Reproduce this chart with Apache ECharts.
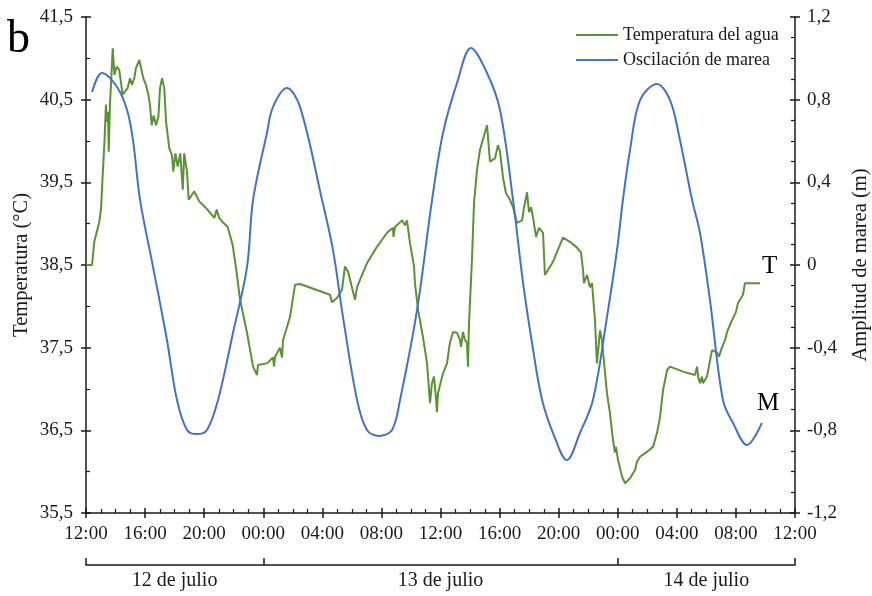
<!DOCTYPE html>
<html>
<head>
<meta charset="utf-8">
<script src="https://cdn.jsdelivr.net/npm/echarts@6/dist/echarts.min.js"></script>
<style>
html,body{margin:0;padding:0;background:#fff;}
#chart{width:872px;height:596px;}
</style>
</head>
<body>
<div id="chart"></div>
<script>
// Hours since 12:00 on 12 July
const tempHours = [0,0.41,0.56,0.90,1.02,1.13,1.24,1.35,1.42,1.49,1.54,1.62,1.69,1.81,1.92,2.08,2.25,2.48,2.82,2.98,3.11,3.27,3.38,3.61,3.72,3.88,4.06,4.22,4.33,4.45,4.58,4.74,4.90,5.01,5.15,5.30,5.42,5.64,5.82,5.91,6.05,6.21,6.38,6.55,6.65,6.84,6.95,7.33,7.67,8.12,8.69,8.85,9.02,9.25,9.59,9.75,9.93,10.16,10.43,10.90,11.31,11.58,11.64,12.25,12.66,12.73,12.80,13.13,13.27,13.34,13.81,14.15,14.49,16.52,16.65,16.99,17.33,17.53,17.74,18.21,18.35,18.55,19.02,19.70,20.38,20.78,20.82,20.92,21.39,21.60,21.73,21.93,22.21,22.27,22.48,22.81,23.09,23.29,23.42,23.56,23.69,23.76,23.83,24.17,24.44,24.64,24.85,25.12,25.32,25.39,25.52,25.66,25.79,25.86,25.93,26.13,26.27,26.47,26.67,27.15,27.35,27.69,27.89,28.03,28.23,28.43,28.70,28.91,29.18,29.52,29.65,29.86,29.99,30.13,30.26,30.47,30.67,30.94,31.07,31.62,32.29,32.77,33.24,33.31,33.51,33.65,33.71,33.92,34.12,34.26,34.32,34.46,34.59,34.66,34.80,34.93,35.27,35.47,35.68,35.81,35.88,36.02,36.29,36.49,36.83,37.17,37.30,37.51,37.98,38.39,38.66,38.86,39.07,39.34,39.54,40.42,41.23,41.37,41.44,41.57,41.70,41.77,42.04,42.38,42.72,42.85,43.05,43.26,43.40,43.73,44.00,44.14,44.48,44.61,44.82,45.63];
const tempValues = [38.50,38.50,38.78,39.02,39.19,39.59,39.95,40.44,40.23,40.35,39.87,40.44,40.68,41.12,40.80,40.90,40.86,40.56,40.64,40.76,40.68,40.76,40.88,40.98,41.00,40.76,40.68,40.56,40.44,40.19,40.31,40.19,40.29,40.64,40.76,40.64,40.23,39.91,39.83,39.63,39.85,39.69,39.85,39.41,39.85,39.63,39.29,39.39,39.27,39.19,39.07,39.17,39.07,39.02,38.96,38.86,38.74,38.46,38.08,37.68,37.27,37.17,37.29,37.31,37.38,37.27,37.39,37.50,37.38,37.59,37.87,38.26,38.27,38.14,38.05,38.10,38.20,38.48,38.42,38.08,38.23,38.32,38.52,38.72,38.89,38.95,38.84,38.96,39.04,38.98,39.04,38.77,38.48,38.28,37.96,37.63,37.31,36.83,37.07,37.15,36.90,36.72,36.95,37.19,37.31,37.56,37.69,37.68,37.59,37.51,37.69,37.59,37.56,37.27,37.80,38.56,39.25,39.65,39.89,40.19,39.75,39.79,39.95,39.87,39.56,39.37,39.29,39.20,39.01,39.04,39.19,39.38,39.14,39.20,39.08,38.84,38.95,38.89,38.38,38.54,38.83,38.78,38.71,38.72,38.65,38.44,38.28,38.38,38.23,38.28,38.14,37.83,37.31,37.44,37.71,37.59,36.95,36.71,36.38,36.23,36.30,36.14,35.94,35.86,35.92,36.02,36.12,36.18,36.24,36.30,36.47,36.66,36.99,37.23,37.27,37.21,37.17,37.27,37.15,37.07,37.15,37.07,37.15,37.47,37.44,37.39,37.50,37.59,37.69,37.83,37.93,38.04,38.14,38.28,38.28,38.28];

const tideHours = [0.41,1.08,2.10,2.78,3.18,3.66,4.54,5.48,6.16,6.84,7.51,8.19,8.94,9.95,10.90,11.31,12.25,12.66,13.61,14.49,15.98,16.72,17.40,18.35,19.02,19.84,20.72,21.26,22.41,23.43,24.17,25.12,26.06,27.15,28.03,28.91,29.59,30.27,30.88,31.62,32.56,33.44,34.32,35.27,35.95,36.35,36.83,37.51,38.66,39.54,40.21,41.03,41.57,42.24,43.12,43.80,44.75,45.76];
const tideValues = [0.837,0.929,0.861,0.750,0.605,0.315,-0.010,-0.363,-0.653,-0.798,-0.818,-0.798,-0.653,-0.329,-0.010,0.315,0.639,0.765,0.856,0.765,0.315,0.073,-0.252,-0.653,-0.798,-0.827,-0.798,-0.653,-0.218,0.315,0.639,0.881,1.050,0.929,0.750,0.315,-0.087,-0.411,-0.653,-0.813,-0.944,-0.813,-0.653,-0.252,0.073,0.315,0.556,0.798,0.876,0.798,0.605,0.315,0.155,-0.169,-0.653,-0.764,-0.871,-0.764];

const seriesNames = ['Temperatura del agua', 'Oscilación de marea'];
const dayBoundaries = [0, 12, 36, 48];
const dayLabels = ['12 de julio', '13 de julio', '14 de julio'];
const axisNames = ['Temperatura (°C)', 'Amplitud de marea (m)'];

const FONT = 'Liberation Serif';
const INK = '#1a1a1a';
const comma = v => String(Math.round(v * 10) / 10).replace('.', ',');
const hourLabel = v => String((v + 12) % 24).padStart(2, '0') + ':00';
const dayMid = dayLabels.map((_, i) => (dayBoundaries[i] + dayBoundaries[i + 1]) / 2);

const tempData = tempHours.map((h, i) => [h, tempValues[i]]);
const tideData = tideHours.map((h, i) => [h, tideValues[i]]);

const chart = echarts.init(document.getElementById('chart'));
const baseX = {type: 'value', min: 0, max: 48, interval: 4, gridIndex: 0, position: 'bottom', splitLine: {show: false}};
chart.setOption({
  animation: false,
  backgroundColor: '#fff',
  textStyle: {fontFamily: FONT, color: INK},
  grid: {left: 86, right: 77, top: 17, bottom: 83, containLabel: false, outerBoundsMode: 'none'},
  legend: {
    orient: 'vertical', left: 571, top: 20, itemWidth: 42, itemHeight: 2, itemGap: 5, icon: 'rect',
    textStyle: {fontFamily: FONT, fontSize: 18, color: INK, lineHeight: 20},
    data: seriesNames
  },
  xAxis: [
    Object.assign({}, baseX, {
      axisLine: {show: true, onZero: false, lineStyle: {color: INK, width: 1.5}},
      axisTick: {show: true, inside: false, length: 5, lineStyle: {color: INK, width: 1.5}},
      axisLabel: {show: true, margin: 12, fontFamily: FONT, fontSize: 19, color: INK, formatter: hourLabel}
    }),
    Object.assign({}, baseX, {
      axisLine: {show: false, onZero: false},
      axisTick: {show: true, inside: true, length: 5, lineStyle: {color: INK, width: 1.5}},
      minorTick: {show: true, splitNumber: 4, length: 4, lineStyle: {color: INK, width: 1.2}},
      axisLabel: {show: false}
    }),
    Object.assign({}, baseX, {
      offset: 52,
      axisLine: {show: true, onZero: false, lineStyle: {color: INK, width: 1.5}},
      axisTick: {show: true, inside: true, length: 7, customValues: dayBoundaries, lineStyle: {color: INK, width: 1.5}},
      axisLabel: {show: true, margin: 6, customValues: dayMid, fontFamily: FONT, fontSize: 20, color: INK,
        formatter: v => dayLabels[dayMid.indexOf(v)] || ''}
    })
  ],
  yAxis: [
    {type: 'value', position: 'left', min: 35.5, max: 41.5, interval: 1, splitLine: {show: false},
      name: axisNames[0], nameLocation: 'middle', nameGap: 54, nameRotate: 90, nameMoveOverlap: false,
      nameTextStyle: {fontFamily: FONT, fontSize: 20.5, color: INK},
      axisLine: {show: true, onZero: false, lineStyle: {color: INK, width: 1.5}},
      axisTick: {show: true, inside: false, length: 5, lineStyle: {color: INK, width: 1.5}},
      axisLabel: {margin: 13, fontFamily: FONT, fontSize: 19, color: INK, formatter: comma}},
    {type: 'value', position: 'right', min: -1.2, max: 1.2, interval: 0.4, splitLine: {show: false},
      name: axisNames[1], nameLocation: 'middle', nameGap: 55, nameRotate: 90,
      nameTextStyle: {fontFamily: FONT, fontSize: 20.5, color: INK},
      axisLine: {show: true, onZero: false, lineStyle: {color: INK, width: 1.5}},
      axisTick: {show: true, inside: false, length: 5, lineStyle: {color: INK, width: 1.5}},
      axisLabel: {margin: 12, fontFamily: FONT, fontSize: 19, color: INK, formatter: comma}},
    {type: 'value', position: 'left', min: 35.5, max: 41.5, interval: 1, splitLine: {show: false},
      axisLine: {show: false, onZero: false}, axisLabel: {show: false},
      axisTick: {show: true, inside: true, length: 5, lineStyle: {color: INK, width: 1.5}},
      minorTick: {show: true, splitNumber: 2, length: 4, lineStyle: {color: INK, width: 1.2}}},
    {type: 'value', position: 'right', min: -1.2, max: 1.2, interval: 0.4, splitLine: {show: false},
      axisLine: {show: false, onZero: false}, axisLabel: {show: false},
      axisTick: {show: true, inside: true, length: 5, lineStyle: {color: INK, width: 1.5}},
      minorTick: {show: true, splitNumber: 4, length: 4, lineStyle: {color: INK, width: 1.2}}}
  ],
  series: [
    {name: seriesNames[0], type: 'line', xAxisIndex: 0, yAxisIndex: 0, data: tempData,
      symbol: 'none', smooth: false, color: '#5a9234', lineStyle: {width: 2, color: '#5a9234'}},
    {name: seriesNames[1], type: 'line', xAxisIndex: 0, yAxisIndex: 1, data: tideData,
      symbol: 'none', smooth: 0.35, color: '#4472c4', lineStyle: {width: 2, color: '#4472c4'}}
  ],
  graphic: [
    {type: 'text', left: 7, top: 17, style: {text: 'b', fontFamily: FONT, fontSize: 46, fill: '#000'}},
    {type: 'text', left: 762, top: 254, style: {text: 'T', fontFamily: FONT, fontSize: 25, fill: '#000'}},
    {type: 'text', left: 757, top: 391, style: {text: 'M', fontFamily: FONT, fontSize: 25, fill: '#000'}}
  ]
});
</script>
</body>
</html>
